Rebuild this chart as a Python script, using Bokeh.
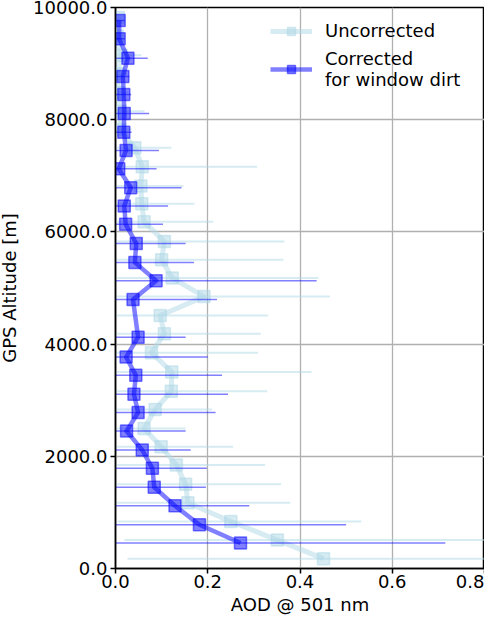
from bokeh.plotting import figure
from bokeh.models import (Range1d, FixedTicker, PrintfTickFormatter, Legend,
                          LegendItem, ColumnDataSource)
from bokeh.embed import file_html
from bokeh.resources import INLINE

# ---- data: uncorrected AOD profile ----
unc_alt = [176, 507, 838, 1170, 1502, 1845, 2171, 2497, 2834, 3160,
           3502, 3847, 4184, 4509, 4847, 5179, 5504, 5829, 6179, 6504,
           6818, 7161, 7498, 7825, 8150, 8490, 8820, 9150, 9490, 9820]
unc_aod = [0.451, 0.351, 0.250, 0.157, 0.152, 0.132, 0.099, 0.062, 0.086, 0.121,
           0.122, 0.078, 0.106, 0.097, 0.192, 0.123, 0.100, 0.106, 0.062, 0.057,
           0.055, 0.058, 0.042, 0.010, 0.010, 0.006, 0.005, 0.012, 0.004, 0.006]
unc_lo = [0.026, 0.019, 0.005, 0.002, 0.002, 0.002, 0.002, 0.002, 0.002, 0.002,
          0.002, 0.002, 0.002, 0.002, 0.002, 0.002, 0.002, 0.002, 0.002, 0.002,
          0.002, 0.002, 0.002, 0.002, 0.002, 0.002, 0.002, 0.002, 0.002, 0.002]
unc_hi = [0.876, 0.850, 0.533, 0.379, 0.359, 0.324, 0.255, 0.152, 0.209, 0.329,
          0.425, 0.309, 0.315, 0.331, 0.465, 0.440, 0.364, 0.366, 0.212, 0.171,
          0.147, 0.307, 0.121, 0.035, 0.063, 0.028, 0.025, 0.056, 0.020, 0.020]

# ---- data: corrected for window dirt ----
cor_alt = [455, 780, 1117, 1449, 1786, 2112, 2449, 2781, 3106, 3444,
           3769, 4124, 4793, 5131, 5456, 5793, 6138, 6463, 6788, 7125,
           7452, 7777, 8109, 8447, 8772, 9097, 9442, 9767]
cor_aod = [0.271, 0.182, 0.129, 0.084, 0.080, 0.058, 0.024, 0.049, 0.040, 0.044,
           0.023, 0.049, 0.038, 0.088, 0.042, 0.045, 0.022, 0.019, 0.033, 0.007,
           0.023, 0.018, 0.019, 0.018, 0.016, 0.027, 0.008, 0.008]
cor_lo = [0.0] * len(cor_alt)
cor_hi = [0.715, 0.500, 0.290, 0.196, 0.198, 0.163, 0.152, 0.217, 0.244, 0.231,
          0.200, 0.152, 0.220, 0.436, 0.170, 0.152, 0.103, 0.114, 0.143, 0.089,
          0.094, 0.035, 0.073, 0.034, 0.030, 0.070, 0.020, 0.020]

x_ticks = [0.0, 0.2, 0.4, 0.6, 0.8]
y_ticks = [0, 2000, 4000, 6000, 8000, 10000]

FONT = "DejaVu Sans"
FS = "18px"

p = figure(width=492, height=625, output_backend="svg", toolbar_location=None,
           x_range=Range1d(0, 0.8), y_range=Range1d(0, 10000),
           min_border_left=123, min_border_right=0, min_border_top=15,
           min_border_bottom=30)
# cancel the page margin so the canvas spans the whole window
p.styles = {"margin-left": "-8px", "margin-top": "-8px", "margin-bottom": "-8px"}

p.background_fill_color = "white"
p.outline_line_color = "black"
p.outline_line_width = 1.5

for ax in (p.xaxis[0], p.yaxis[0]):
    ax.axis_line_width = 1.5
    ax.major_tick_line_width = 1.5
    ax.major_tick_out = 5
    ax.major_tick_in = 0
    ax.minor_tick_out = 0
    ax.minor_tick_in = 0
    ax.major_label_text_font = FONT
    ax.major_label_text_font_size = FS
    ax.major_label_text_color = "black"
    ax.axis_label_text_font = FONT
    ax.axis_label_text_font_size = FS
    ax.axis_label_text_font_style = "normal"
    ax.axis_label_text_color = "black"
    ax.formatter = PrintfTickFormatter(format="%.1f")

p.xaxis[0].major_label_standoff = 1
p.xaxis[0].axis_label_standoff = 3
p.yaxis[0].major_label_standoff = 3
p.yaxis[0].axis_label_standoff = 10

p.xaxis[0].ticker = FixedTicker(ticks=x_ticks)
p.yaxis[0].ticker = FixedTicker(ticks=y_ticks)
p.xaxis[0].axis_label = "AOD @ 501 nm"
p.yaxis[0].axis_label = "GPS Altitude [m]"

for g in (p.xgrid[0], p.ygrid[0]):
    g.grid_line_color = "#b0b0b0"
    g.grid_line_width = 1.3
p.xgrid[0].ticker = FixedTicker(ticks=x_ticks)
p.ygrid[0].ticker = FixedTicker(ticks=y_ticks)

LIGHT = "#add8e6"
BLUE = "#0000ff"

src_u = ColumnDataSource(dict(alt=unc_alt, aod=unc_aod, lo=unc_lo, hi=unc_hi))
src_c = ColumnDataSource(dict(alt=cor_alt, aod=cor_aod, lo=cor_lo, hi=cor_hi))

# uncorrected
p.segment(x0="lo", x1="hi", y0="alt", y1="alt", source=src_u,
          line_color=LIGHT, line_alpha=0.5, line_width=2)
lu = p.line("aod", "alt", source=src_u, line_color=LIGHT, line_alpha=0.5,
            line_width=5, line_join="round")
su = p.scatter("aod", "alt", source=src_u, marker="square", size=12,
               fill_color=LIGHT, fill_alpha=0.5, line_color=LIGHT,
               line_alpha=0.5, line_width=1.5)

# corrected
p.segment(x0="lo", x1="hi", y0="alt", y1="alt", source=src_c,
          line_color=BLUE, line_alpha=0.5, line_width=1.5)
lc = p.line("aod", "alt", source=src_c, line_color=BLUE, line_alpha=0.5,
            line_width=4.5, line_join="round")
sc = p.scatter("aod", "alt", source=src_c, marker="square", size=12,
               fill_color=BLUE, fill_alpha=0.5, line_color=BLUE,
               line_alpha=0.5, line_width=1.5)

legend = Legend(items=[
    LegendItem(label="Uncorrected", renderers=[lu, su]),
    LegendItem(label="Corrected\nfor window dirt", renderers=[lc, sc]),
], location="top_right")
legend.background_fill_alpha = 0
legend.border_line_alpha = 0
legend.label_text_font = FONT
legend.label_text_font_size = FS
legend.label_text_color = "black"
legend.glyph_width = 42
legend.glyph_height = 20
legend.label_standoff = 13
legend.label_width = 146
legend.spacing = 7
legend.margin = 1
legend.padding = 12
p.add_layout(legend)

open("out.html", "w").write(file_html(p, INLINE))
